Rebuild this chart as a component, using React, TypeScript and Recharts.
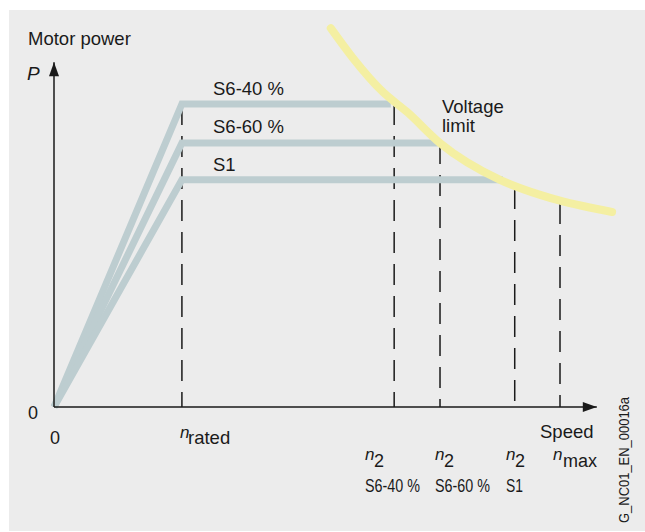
import React from 'react';
import { LineChart, Line, XAxis, YAxis } from 'recharts';

// speed axis in % of plot width, power axis in % of plot height
const dutyCycles = ['S6-40 %', 'S6-60 %', 'S1'];
const ratedSpeed = 22.6;
const plateauPower = [78.3, 68.2, 58.7];
const plateauEnd = [59.5, 67.8, 79.3];
const n2Speed = [60.1, 68.2, 81.4];
const n2Top = [78.3, 68.2, 56.6];
const maxSpeed = 89.4;
const maxSpeedTop = 52.7;
const voltageSpeed = [48.9, 52.8, 58.1, 62.4, 68.2, 78.8, 85.9, 89.4, 98.6];
const voltagePower = [97.9, 90.2, 81.4, 76.2, 68.2, 58.7, 54.8, 53.3, 50.4];
const speedAxisEnd = 95.9;
const powerAxisEnd = 89.1;

const FONT = '"Liberation Sans", Arial, sans-serif';
const RAMP = '#bdcdd0';
const YELLOW = '#f4efa2';
const INK = '#1a1a1a';

const rampData = plateauPower.map((p, i) => [
  { x: 0, y: 0 },
  { x: ratedSpeed, y: p },
  { x: plateauEnd[i], y: p },
]);

const dashedData = [
  [{ x: ratedSpeed, y: plateauPower[0] }, { x: ratedSpeed, y: 0 }],
  ...n2Speed.map((s, i) => [{ x: s, y: n2Top[i] }, { x: s, y: 0 }]),
  [{ x: maxSpeed, y: maxSpeedTop }, { x: maxSpeed, y: 0 }],
];

const voltageData = voltageSpeed.map((x, i) => ({ x, y: voltagePower[i] }));

const xAxisData = [{ x: 0, y: 0 }, { x: speedAxisEnd, y: 0 }];
const yAxisData = [{ x: 0, y: 0 }, { x: 0, y: powerAxisEnd }];

const arrowRight = (props: any) => {
  const { cx, cy, index } = props;
  if (index !== 1) return <g key={`xa-${index}`} />;
  return <polygon key={`xa-${index}`} points={`${cx},${cy} ${cx - 14},${cy - 5} ${cx - 14},${cy + 5}`} fill={INK} />;
};

const arrowUp = (props: any) => {
  const { cx, cy, index } = props;
  if (index !== 1) return <g key={`ya-${index}`} />;
  return <polygon key={`ya-${index}`} points={`${cx},${cy} ${cx - 5},${cy + 14} ${cx + 5},${cy + 14}`} fill={INK} />;
};

const t = { fontFamily: FONT, fill: '#1a1a1a' } as const;

export default function App() {
  return (
    <div style={{ position: 'absolute', left: 0, top: 0, width: 645, height: 532, background: '#fff' }}>
      <div style={{ position: 'absolute', left: 9, top: 10, width: 636, height: 521, background: '#ececec' }} />
      <div style={{ position: 'absolute', left: 0, top: 0 }}>
        <LineChart width={645} height={532} margin={{ top: 20, right: 25, bottom: 125, left: 54 }}>
          <XAxis type="number" dataKey="x" domain={[0, 100]} hide />
          <YAxis type="number" dataKey="y" domain={[0, 100]} hide />
          {dashedData.map((d, i) => (
            <Line key={`d${i}`} data={d} dataKey="y" stroke={INK} strokeWidth={1.5} strokeDasharray="21 11"
              dot={false} activeDot={false} isAnimationActive={false} />
          ))}
          {rampData.map((d, i) => (
            <Line key={`r${i}`} name={dutyCycles[i]} data={d} dataKey="y" stroke={RAMP} strokeWidth={7}
              strokeLinejoin="miter" dot={false} activeDot={false} isAnimationActive={false} />
          ))}
          <Line data={voltageData} dataKey="y" type="monotone" stroke={YELLOW} strokeWidth={8}
            strokeLinecap="round" dot={false} activeDot={false} isAnimationActive={false} />
          <Line data={xAxisData} dataKey="y" stroke={INK} strokeWidth={1.5} dot={arrowRight}
            activeDot={false} isAnimationActive={false} />
          <Line data={yAxisData} dataKey="y" stroke={INK} strokeWidth={1.5} dot={arrowUp}
            activeDot={false} isAnimationActive={false} />
        </LineChart>
      </div>
      <svg width={645} height={532} style={{ position: 'absolute', left: 0, top: 0, pointerEvents: 'none' }}>
        <text x={28} y={45} fontSize={18.5} {...t}>Motor power</text>
        <text x={27} y={80} fontSize={19} fontStyle="italic" {...t}>P</text>
        <text x={213} y={95} fontSize={18.5} {...t}>{dutyCycles[0]}</text>
        <text x={213} y={133} fontSize={18.5} {...t}>{dutyCycles[1]}</text>
        <text x={213} y={171} fontSize={18.5} {...t}>{dutyCycles[2]}</text>
        <text x={442} y={113} fontSize={18.5} {...t}>Voltage</text>
        <text x={442} y={132} fontSize={18.5} {...t}>limit</text>
        <text x={28} y={419} fontSize={18} {...t}>0</text>
        <text x={50} y={444} fontSize={18} {...t}>0</text>
        <text x={180} y={438} fontSize={17} fontStyle="italic" {...t}>n</text>
        <text x={188} y={444} fontSize={18.5} {...t}>rated</text>
        <text x={540} y={438} fontSize={18.5} {...t}>Speed</text>
        {[365, 435, 506].map((x, i) => (
          <g key={x}>
            <text x={x} y={460} fontSize={17} fontStyle="italic" {...t}>n</text>
            <text x={x + 9} y={467} fontSize={18} {...t}>2</text>
            <text x={x} y={492} fontSize={17.5} {...t} textLength={i < 2 ? 55 : 17} lengthAdjust="spacingAndGlyphs">
              {dutyCycles[i]}
            </text>
          </g>
        ))}
        <text x={553} y={460} fontSize={17} fontStyle="italic" {...t}>n</text>
        <text x={563} y={467} fontSize={18} {...t}>max</text>
        <text x={629} y={523} fontSize={15} transform="rotate(-90 629 523)" textLength={126}
          lengthAdjust="spacingAndGlyphs" {...t}>G_NC01_EN_00016a</text>
      </svg>
    </div>
  );
}
